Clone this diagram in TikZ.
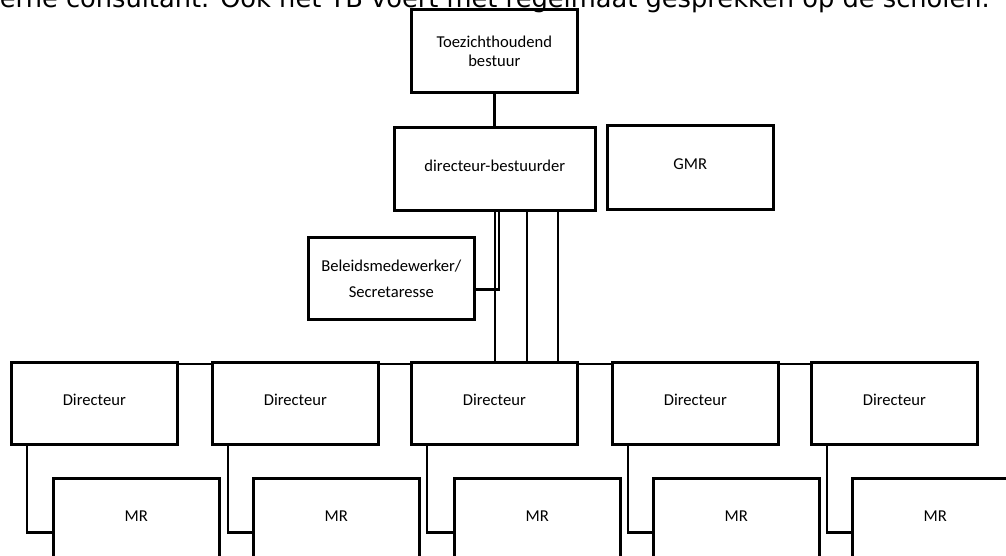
\documentclass[tikz,border=0pt]{standalone}
\usepackage{fontspec}
\setmainfont{Carlito}
\newfontfamily\topfont{DejaVu Sans}
\begin{document}
\begin{tikzpicture}[x=1pt,y=-1pt,
  box/.style={draw, line width=2.6pt, rectangle, minimum width=166pt, minimum height=82pt,
    inner sep=0pt, font=\fontsize{16.6}{19}\selectfont, align=center, anchor=north west},
  oneline/.style={text height=10pt, text depth=5.6pt},
  conn/.style={line width=2.6pt}]
\useasboundingbox (0,0) rectangle (1006,555);
\clip (0,0) rectangle (1006,555);
\node[anchor=base east, inner sep=0pt, font=\topfont\fontsize{25.7}{30}\selectfont] (toptext) at (990,7)
  {erne consultant. Ook het TB voert met regelmaat gesprekken op de scholen.};
\node[box, minimum height=83pt] (tb) at (410,8) {Toezichthoudend\\bestuur};
\node[box, oneline, minimum width=201pt, minimum height=83pt] (db) at (393,126) {directeur-bestuurder};
\node[box, oneline, minimum height=84pt] (gmr) at (606,124) {GMR};
\node[box, font=\fontsize{16.6}{26}\selectfont] (bel) at (307,236) {Beleidsmedewerker/\\Secretaresse};
\foreach \i/\dx/\mx in {1/10/52, 2/211/252, 3/410/453, 4/611/652, 5/810/851} {
  \node[box, oneline] (d\i) at (\dx,361) {Directeur};
  \node[box, oneline] (m\i) at (\mx,477) {MR};
}
\draw[conn] (tb.south) -- (tb.south |- db.north);
\draw[conn] (db.south) -- (db.south |- d3.north);
\draw[conn] ([xshift=32pt]db.south) -- ([xshift=32pt]db.south |- d3.north);
\draw[conn] ([xshift=63pt]db.south) -- ([xshift=63pt]db.south |- d3.north);
\draw[conn] ([xshift=4pt]db.south) |- ([yshift=-11pt]bel.east);
\foreach \a/\b in {1/2, 2/3, 3/4, 4/5} {
  \draw[conn] ([yshift=-3pt]d\a.north east) -- ([yshift=-3pt]d\b.north west);
}
\foreach \i in {1,...,5} {
  \draw[conn] ([xshift=17pt]d\i.south west) |- ([yshift=-13pt]m\i.west);
}
\end{tikzpicture}
\end{document}
